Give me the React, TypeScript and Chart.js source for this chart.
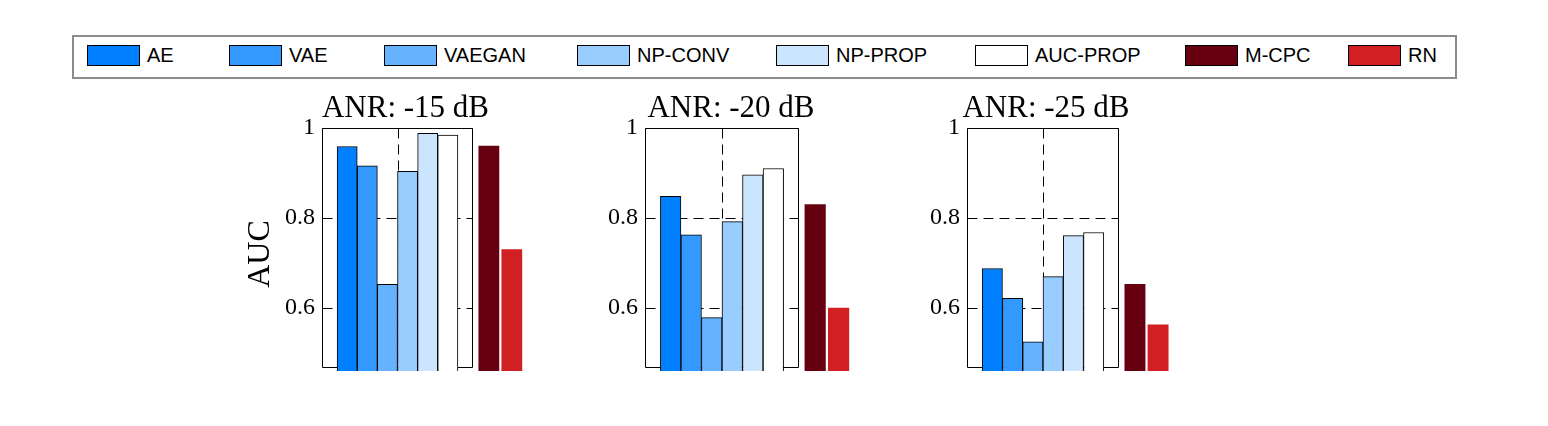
import { useEffect, useRef } from "react";
import { Chart, registerables } from "chart.js";

Chart.register(...registerables);

// ---- data ----
const methods = ["AE", "VAE", "VAEGAN", "NP-CONV", "NP-PROP", "AUC-PROP", "M-CPC", "RN"];
const panelTitles = ["ANR: -15 dB", "ANR: -20 dB", "ANR: -25 dB"];
const auc15 = [0.959, 0.916, 0.653, 0.904, 0.988, 0.984, 0.96, 0.73];
const auc20 = [0.848, 0.763, 0.579, 0.792, 0.896, 0.91, 0.83, 0.6];
const auc25 = [0.688, 0.622, 0.525, 0.67, 0.761, 0.768, 0.653, 0.563];
const yTicks = [0.6, 0.8, 1];
const yLabel = "AUC";

const panelValues = [auc15, auc20, auc25];

// ---- styles ----
const barColors = ["#0080FF", "#3399FF", "#66B2FF", "#99CCFF", "#CCE5FF", "#FFFFFF", "#660011", "#D11F24"];
const barEdges = [1, 1, 1, 1, 1, 1, 0, 0];
const SERIF = "'Liberation Serif', 'Times New Roman', serif";
const SANS = "'Liberation Sans', Arial, sans-serif";

// ---- layout (pixels) ----
const Y_MIN = 0.467;
const Y_MAX = 1;
const PLOT_TOP = 128;
const PLOT_BOTTOM = 368;
const CANVAS_TOP = 80;
const CANVAS_H = 300;
const AXIS_W = 80;
const RIGHT_PAD = 70;
const boxLefts = [322, 645, 967];
const boxWidths = [151, 154, 152];
const titleShifts = [8, 9, 3];
const legendLefts = [87, 229, 384, 577, 776, 975, 1185, 1348];

// matlab-style grouped bar around x = 1 (group width 0.8), then two extra bars to the right
const GROUP_W = 0.8;
const slotX = [
  ...Array.from({ length: 6 }, (_, i) => 1 - GROUP_W / 2 + ((i + 0.5) * GROUP_W) / 6),
  1.605,
  1.757,
];

const matlabAxes = {
  id: "matlabAxes",
  beforeDatasetsDraw(chart: any) {
    const { ctx, chartArea: a, scales } = chart;
    const left = Math.round(a.left) + 0.5;
    const right = Math.round(a.right) - 0.5;
    const top = Math.round(a.top) + 0.5;
    const bottom = Math.round(a.bottom) - 0.5;
    const cx = Math.round(scales.x.getPixelForValue(1)) + 0.5;
    ctx.save();
    ctx.strokeStyle = "#000";
    ctx.lineWidth = 1;

    // dashed grid
    ctx.setLineDash([10, 6]);
    ctx.beginPath();
    yTicks.forEach((v) => {
      if (v >= Y_MAX) return;
      const py = Math.round(scales.y.getPixelForValue(v)) + 0.5;
      ctx.moveTo(left, py);
      ctx.lineTo(right, py);
    });
    ctx.moveTo(cx, top);
    ctx.lineTo(cx, bottom);
    ctx.stroke();
    ctx.setLineDash([]);

    // box + inward ticks
    ctx.beginPath();
    ctx.rect(left, top, right - left, bottom - top);
    yTicks.forEach((v) => {
      const py = Math.round(scales.y.getPixelForValue(v)) + 0.5;
      ctx.moveTo(left, py);
      ctx.lineTo(left + 5, py);
      ctx.moveTo(right - 5, py);
      ctx.lineTo(right, py);
    });
    ctx.moveTo(cx, top);
    ctx.lineTo(cx, top + 5);
    ctx.stroke();
    ctx.restore();
  },
  afterDraw(chart: any, _args: any, opts: any) {
    const { ctx, chartArea: a } = chart;
    ctx.save();
    ctx.fillStyle = "#000";
    ctx.font = `31px ${SERIF}`;
    ctx.textAlign = "center";
    ctx.textBaseline = "alphabetic";
    ctx.fillText(opts.text, (a.left + a.right) / 2 + opts.shift, a.top - 11);
    if (opts.yLabel) {
      ctx.translate(a.left - 61, (a.top + a.bottom) / 2 + 6);
      ctx.rotate(-Math.PI / 2);
      ctx.font = `32px ${SERIF}`;
      ctx.textBaseline = "middle";
      ctx.fillText(opts.yLabel, 0, 0);
    }
    ctx.restore();
  },
};

function Panel({ index }: { index: number }) {
  const canvasRef = useRef<HTMLCanvasElement>(null);
  const width = AXIS_W + boxWidths[index] + RIGHT_PAD;

  useEffect(() => {
    if (!canvasRef.current) return;
    const values = panelValues[index];
    const chart = new Chart(canvasRef.current, {
      type: "bar",
      data: {
        labels: methods,
        datasets: [
          {
            data: values.map((v, i) => ({ x: slotX[i], y: v })),
            backgroundColor: barColors,
            borderColor: "#000",
            borderWidth: barEdges,
            borderSkipped: "start",
            barPercentage: 1,
            categoryPercentage: 1,
            clip: { left: false, top: false, right: false, bottom: 3 },
          },
        ],
      } as any,
      options: {
        responsive: false,
        animation: false,
        events: [],
        layout: {
          padding: {
            top: PLOT_TOP - CANVAS_TOP,
            bottom: CANVAS_TOP + CANVAS_H - PLOT_BOTTOM,
            left: 0,
            right: RIGHT_PAD,
          },
        },
        scales: {
          x: {
            type: "linear",
            min: 0.5,
            max: 1.5,
            offset: false,
            display: false,
            afterBuildTicks: (s: any) => {
              s.ticks = [{ value: 1 }];
            },
          },
          y: {
            min: Y_MIN,
            max: Y_MAX,
            afterBuildTicks: (s: any) => {
              s.ticks = yTicks.map((v) => ({ value: v }));
            },
            afterFit: (s: any) => {
              s.width = AXIS_W;
              s.paddingTop = 0;
              s.paddingBottom = 0;
            },
            grid: { display: false, drawTicks: false },
            border: { display: false },
            ticks: {
              padding: 7,
              color: "#000",
              font: { family: SERIF, size: 24 },
              callback: (v: any) => String(v),
            },
          },
        },
        plugins: {
          legend: { display: false },
          tooltip: { enabled: false },
          matlabAxes: {
            text: panelTitles[index],
            shift: titleShifts[index],
            yLabel: index === 0 ? yLabel : "",
          },
        } as any,
      },
      plugins: [matlabAxes],
    });
    return () => chart.destroy();
  }, [index]);

  return (
    <canvas
      ref={canvasRef}
      width={width}
      height={CANVAS_H}
      style={{
        position: "absolute",
        left: boxLefts[index] - AXIS_W,
        top: CANVAS_TOP,
        width,
        height: CANVAS_H,
      }}
    />
  );
}

function Legend() {
  return (
    <>
      <div
        style={{
          position: "absolute",
          left: 72,
          top: 35,
          width: 1385,
          height: 44,
          border: "2px solid #8c8c8c",
          boxSizing: "border-box",
        }}
      />
      {methods.map((m, i) => (
        <div
          key={m}
          style={{
            position: "absolute",
            left: legendLefts[i],
            top: 45,
            height: 21,
            display: "flex",
            alignItems: "center",
            fontFamily: SANS,
            fontSize: 20,
            color: "#000",
            whiteSpace: "nowrap",
          }}
        >
          <span
            style={{
              display: "inline-block",
              width: 53,
              height: 21,
              boxSizing: "border-box",
              border: "1px solid #000",
              background: barColors[i],
              marginRight: 7,
            }}
          />
          {m}
        </div>
      ))}
    </>
  );
}

export default function App() {
  return (
    <div
      style={{
        position: "fixed",
        left: 0,
        top: 0,
        width: 1548,
        height: 426,
        background: "#fff",
        overflow: "hidden",
      }}
    >
      <Legend />
      {panelTitles.map((t, i) => (
        <Panel key={t} index={i} />
      ))}
    </div>
  );
}
